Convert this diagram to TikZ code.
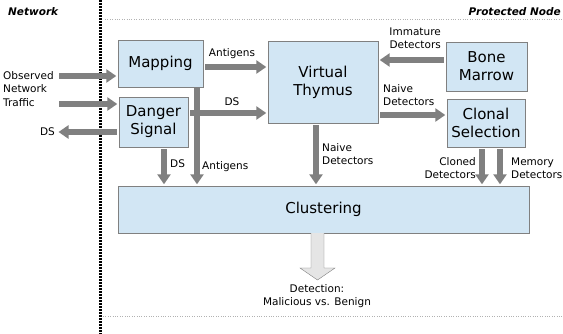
\documentclass[tikz,border=0pt]{standalone}
\usepackage{fontspec}
\setmainfont{DejaVu Sans}
\usetikzlibrary{arrows.meta,shadows}
\definecolor{boxblue}{HTML}{D2E6F4}
\definecolor{flowgray}{HTML}{808080}
\tikzset{
  unit/.style={draw=gray, fill=boxblue, inner sep=0pt, align=center,
    drop shadow={shadow xshift=1.2pt, shadow yshift=-1.2pt, fill=gray!70},
    font=\fontsize{15}{18}\selectfont},
  flow/.style={draw=flowgray, line width=5.5pt,
    -{Triangle[length=10pt,width=13pt]}, shorten <=2pt, shorten >=1.5pt},
  lbl/.style={inner sep=0pt, font=\fontsize{10.5}{13.5}\selectfont},
  zone/.style={inner sep=0pt, font=\fontsize{10.5}{13}\selectfont\bfseries\itshape}
}

\begin{document}
\begin{tikzpicture}[x=1pt,y=-1pt]
  \useasboundingbox (0,0) rectangle (563,334);
  % zones
  \draw[line width=3pt, dash pattern=on 2pt off 1pt] (100,0) -- (100,334);
  \draw[gray!60, dotted] (105,19) -- (563,19);
  \draw[gray!60, dotted] (103,316) -- (563,316);
  \node[zone, anchor=west] (net) at (8,12) {Network};
  \node[zone, anchor=east] (prot) at (561,12) {Protected Node};

  % units
  \node[unit, minimum width=85pt, minimum height=47pt] (mapping) at (160.5,63.5) {Mapping};
  \node[unit, minimum width=69pt, minimum height=50pt] (danger) at (153.5,122) {Danger\\Signal};
  \node[unit, minimum width=110pt, minimum height=82pt] (thymus) at (323,82) {Virtual\\Thymus};
  \node[unit, minimum width=81pt, minimum height=49pt] (bone) at (486.5,66.5) {Bone\\Marrow};
  \node[unit, minimum width=78pt, minimum height=48pt] (clonal) at (486,123) {Clonal\\Selection};
  \node[unit, minimum width=411pt, minimum height=47pt] (clustering) at (323.5,209.5) {Clustering};

  % input traffic
  \node[lbl, anchor=west, align=left] (traffic) at (3,89) {Observed\\Network\\Traffic};
  \coordinate (obs1) at (57,76);
  \coordinate (obs2) at (57,104);
  \coordinate (dsout) at (57,132);
  \draw[flow] (obs1) -- (obs1 -| mapping.west);
  \draw[flow] (obs2) -- (obs2 -| danger.west);
  \draw[flow] (dsout -| danger.west) -- (dsout);
  \node[lbl, anchor=east] (dsl) at (55,132) {DS};

  % into the thymus
  \draw[flow] (mapping.east |- 0,67) -- (thymus.west |- 0,67);
  \node[lbl] (antl) at (232,54) {Antigens};
  \draw[flow] (danger.east |- 0,113) -- (thymus.west |- 0,113);
  \node[lbl] (dsl2) at (232,102) {DS};
  \draw[flow] (bone.west |- 0,60) -- (thymus.east |- 0,60);
  \node[lbl, anchor=east, align=right] (imml) at (441,38) {Immature\\Detectors};
  \draw[flow] (thymus.east |- 0,115) -- (clonal.west |- 0,115);
  \node[lbl, anchor=west, align=left] (naivel) at (383,95) {Naive\\Detectors};

  % down to clustering
  \draw[flow] (danger.south -| 164,0) -- (clustering.north -| 164,0);
  \node[lbl, anchor=west] (dsl3) at (170,164) {DS};
  \draw[flow, shorten <=0pt] (mapping.south -| 197,0) -- (clustering.north -| 197,0);
  \node[lbl, anchor=west] (antl2) at (202,167) {Antigens};
  \draw[flow] (thymus.south -| 316,0) -- (clustering.north -| 316,0);
  \node[lbl, anchor=west, align=left] (naivel2) at (322,154) {Naive\\Detectors};
  \draw[flow] (clonal.south -| 482,0) -- (clustering.north -| 482,0);
  \node[lbl, anchor=east, align=right] (clonl) at (476,168) {Cloned\\Detectors};
  \draw[flow] (clonal.south -| 500,0) -- (clustering.north -| 500,0);
  \node[lbl, anchor=west, align=left] (meml) at (511,168) {Memory\\Detectors};

  % output
  \draw[gray, fill=gray!20] (clustering.south -| 311,0) -- (311,268) -- (300,268)
    -- (317.5,280) -- (335,268) -- (324,268) -- (clustering.south -| 324,0);
  \node[lbl, align=center] (detl) at (317,296) {Detection:\\Malicious vs. Benign};
\end{tikzpicture}
\end{document}
